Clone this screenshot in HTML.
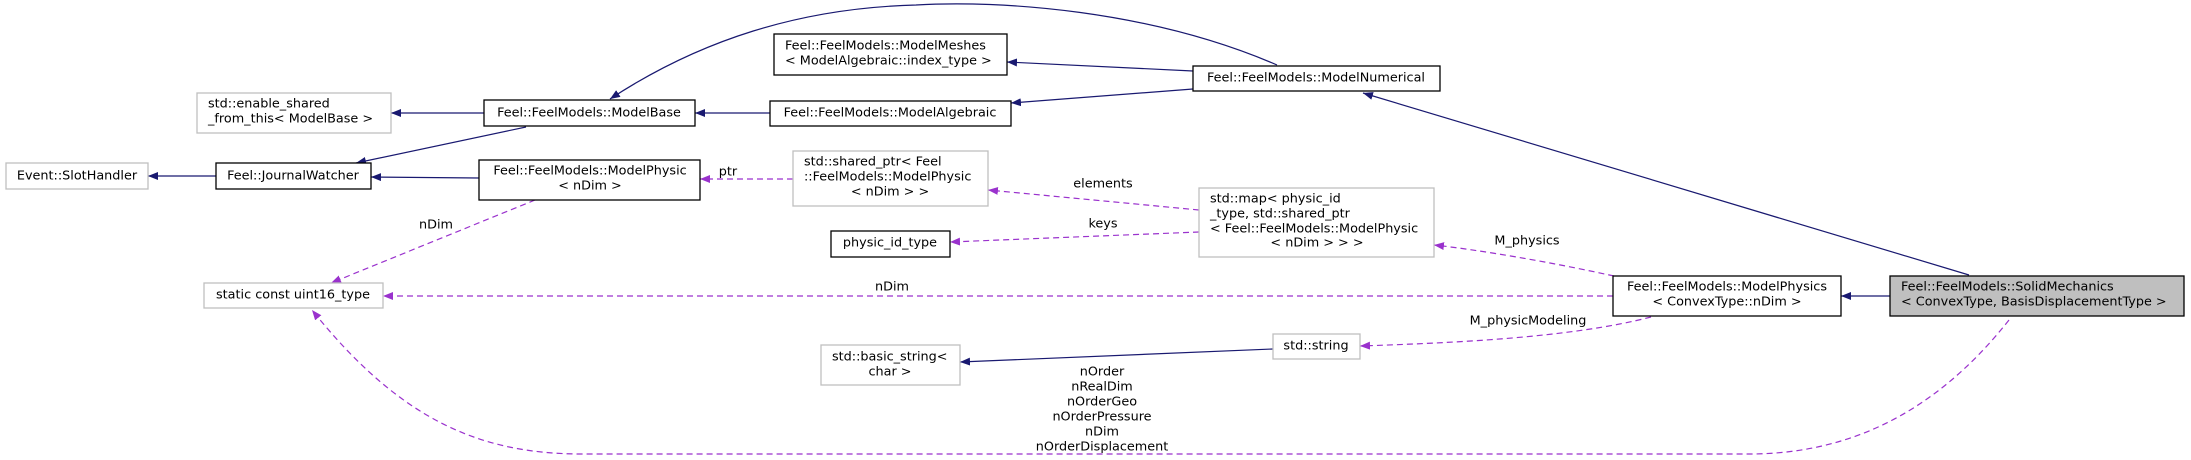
<!DOCTYPE html>
<html><head><meta charset="utf-8"><style>
html,body{margin:0;padding:0;background:#fff;}
svg{display:block;}
text{font-family:"DejaVu Sans","Liberation Sans",sans-serif;font-size:12.8px;fill:#000;dominant-baseline:central;}
.c{text-anchor:middle;}
.n{stroke:#191970;stroke-width:1.2;fill:none;}
.p{stroke:#9a32cd;stroke-width:1.2;fill:none;stroke-dasharray:6,4;}
.bb{fill:#fff;stroke:#000;stroke-width:1.3;}
.bg{fill:#fff;stroke:#bfbfbf;stroke-width:1.3;}
</style></head><body>
<svg width="2191" height="460" viewBox="0 0 2191 460" xmlns="http://www.w3.org/2000/svg">
<defs>
<marker id="an" markerWidth="11" markerHeight="8" refX="10" refY="4" orient="auto" markerUnits="userSpaceOnUse"><path d="M0,0 L10,4 L0,8 Z" fill="#191970"/></marker>
<marker id="ap" markerWidth="11" markerHeight="8" refX="10" refY="4" orient="auto" markerUnits="userSpaceOnUse"><path d="M0,0 L10,4 L0,8 Z" fill="#9a32cd"/></marker>
</defs>

<path class="n" d="M1277,65 C1150,10 1000,0 916,5 C800,8 700,40 610,99" marker-end="url(#an)"/>
<path class="n" d="M1193,71 L1007,62" marker-end="url(#an)"/>
<path class="n" d="M1193,89 L1011,103" marker-end="url(#an)"/>
<path class="n" d="M770,113 L695,113" marker-end="url(#an)"/>
<path class="n" d="M484,113 L391,113" marker-end="url(#an)"/>
<path class="n" d="M526,127 L356,163" marker-end="url(#an)"/>
<path class="n" d="M216,176 L148,176" marker-end="url(#an)"/>
<path class="n" d="M479,178 L371,177" marker-end="url(#an)"/>
<path class="n" d="M1969,275 L1363,93" marker-end="url(#an)"/>
<path class="n" d="M1890,296 L1841,296" marker-end="url(#an)"/>
<path class="n" d="M1273,349 L960,362" marker-end="url(#an)"/>

<path class="p" d="M793,179 L700,179" marker-end="url(#ap)"/>
<path class="p" d="M1199,210 L988,190" marker-end="url(#ap)"/>
<path class="p" d="M1199,232 L950,242" marker-end="url(#ap)"/>
<path class="p" d="M1614,276 C1550,262 1480,250 1434,245" marker-end="url(#ap)"/>
<path class="p" d="M535,200 L331,283" marker-end="url(#ap)"/>
<path class="p" d="M1613,296 L383,296" marker-end="url(#ap)"/>
<path class="p" d="M1651,317 C1570,338 1450,343 1360,346" marker-end="url(#ap)"/>
<path class="p" d="M2009,320 C1930,420 1840,454 1749,454 L582,454 C480,454 400,420 312,310" marker-end="url(#ap)"/>

<text class="c" x="728" y="172">ptr</text>
<text class="c" x="1103" y="184">elements</text>
<text class="c" x="1103" y="224">keys</text>
<text class="c" x="1527" y="241">M_physics</text>
<text class="c" x="436" y="225">nDim</text>
<text class="c" x="892" y="287">nDim</text>
<text class="c" x="1528" y="321">M_physicModeling</text>
<text class="c" x="1102" y="372">nOrder</text>
<text class="c" x="1102" y="387">nRealDim</text>
<text class="c" x="1102" y="402">nOrderGeo</text>
<text class="c" x="1102" y="417">nOrderPressure</text>
<text class="c" x="1102" y="432">nDim</text>
<text class="c" x="1102" y="447">nOrderDisplacement</text>

<rect class="bg" x="6" y="163" width="142" height="26"/>
<text class="c" x="77" y="176">Event::SlotHandler</text>

<rect class="bb" x="216" y="163" width="155" height="26"/>
<text class="c" x="293" y="176">Feel::JournalWatcher</text>

<rect class="bg" x="197" y="93" width="194" height="40"/>
<text x="208" y="104">std::enable_shared</text>
<text x="208" y="119">_from_this&lt; ModelBase &gt;</text>

<rect class="bb" x="484" y="100" width="211" height="26"/>
<text class="c" x="589" y="113">Feel::FeelModels::ModelBase</text>

<rect class="bb" x="479" y="160" width="221" height="40"/>
<text class="c" x="590" y="171">Feel::FeelModels::ModelPhysic</text>
<text class="c" x="590" y="186">&lt; nDim &gt;</text>

<rect class="bg" x="204" y="283" width="179" height="25"/>
<text class="c" x="293" y="295">static const uint16_type</text>

<rect class="bb" x="774" y="34" width="233" height="41"/>
<text x="785" y="46">Feel::FeelModels::ModelMeshes</text>
<text x="785" y="61">&lt; ModelAlgebraic::index_type &gt;</text>

<rect class="bb" x="770" y="101" width="241" height="25"/>
<text class="c" x="890" y="113">Feel::FeelModels::ModelAlgebraic</text>

<rect class="bb" x="1193" y="66" width="247" height="25"/>
<text class="c" x="1316" y="78">Feel::FeelModels::ModelNumerical</text>

<rect class="bg" x="793" y="151" width="195" height="55"/>
<text x="804" y="162">std::shared_ptr&lt; Feel</text>
<text x="804" y="177">::FeelModels::ModelPhysic</text>
<text class="c" x="890" y="192">&lt; nDim &gt; &gt;</text>

<rect class="bb" x="831" y="231" width="119" height="26"/>
<text class="c" x="890" y="243">physic_id_type</text>

<rect class="bg" x="1199" y="188" width="235" height="69"/>
<text x="1210" y="199">std::map&lt; physic_id</text>
<text x="1210" y="214">_type, std::shared_ptr</text>
<text x="1210" y="229">&lt; Feel::FeelModels::ModelPhysic</text>
<text class="c" x="1317" y="243">&lt; nDim &gt; &gt; &gt;</text>

<rect class="bg" x="821" y="345" width="139" height="40"/>
<text x="832" y="357">std::basic_string&lt;</text>
<text class="c" x="890" y="372">char &gt;</text>

<rect class="bg" x="1273" y="334" width="87" height="25"/>
<text class="c" x="1316" y="346">std::string</text>

<rect class="bb" x="1613" y="276" width="228" height="40"/>
<text class="c" x="1727" y="287">Feel::FeelModels::ModelPhysics</text>
<text class="c" x="1727" y="302">&lt; ConvexType::nDim &gt;</text>

<rect x="1890" y="276" width="294" height="40" fill="#bfbfbf" stroke="#000" stroke-width="1.3"/>
<text x="1901" y="287">Feel::FeelModels::SolidMechanics</text>
<text x="1901" y="302">&lt; ConvexType, BasisDisplacementType &gt;</text>
</svg>
</body></html>
